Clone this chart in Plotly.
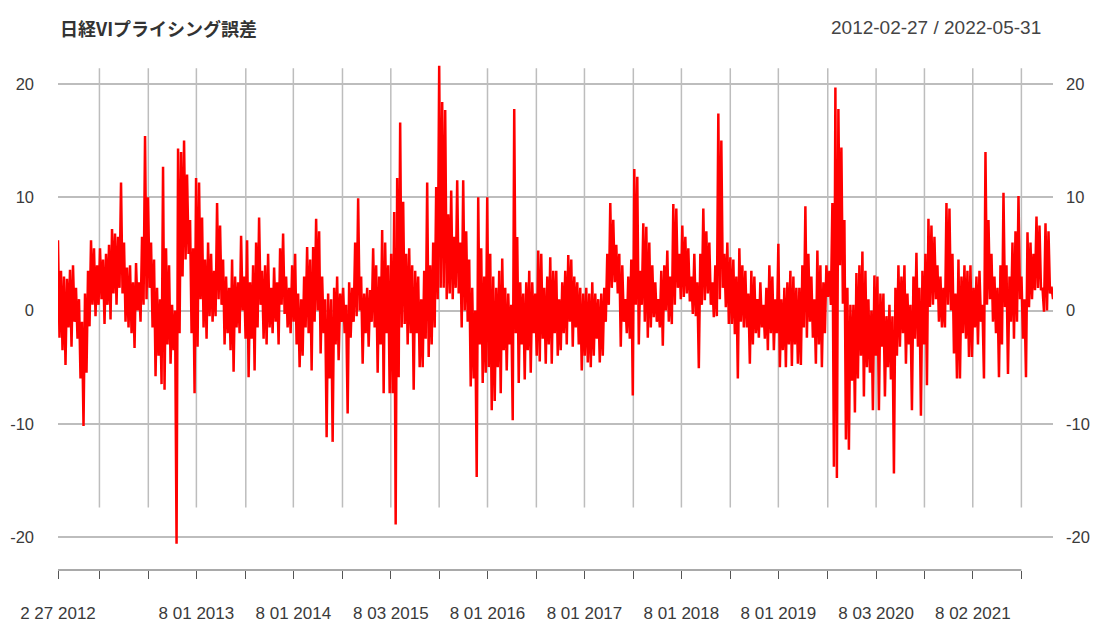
import pandas as pd
import plotly.graph_objects as go

START = "2012-02-27"
END = "2022-05-31"

# Per-period (approx. 11 calendar days) upper / lower extent of the pricing error
period_high = [
    # 2012
    6.2, 3.5, 3.0, 2.8, 3.6, 4.0, 2.0, 1.0, -1.0, 1.5, 3.5, 6.2, 5.5, 4.0,
    5.5, 4.5, 5.0, 5.8, 7.2, 6.8, 6.5, 11.3, 6.0, 3.8, 4.0, 2.5, 4.2, 2.5, 6.5, 15.4,
    # 2013
    10.0, 6.0, 4.5, 2.0, 1.0, 12.7, 5.5, 4.0, 0.5, 0.0, 14.3, 14.0, 15.0, 12.0, 8.0, 5.5,
    11.7, 11.3, 8.2, 4.5, 6.0, 5.0, 3.5, 9.5, 7.5, 4.5, 3.0, 2.0, 4.5, 3.0, 2.5, 6.6, 3.0,
    # 2014
    6.2, 2.5, 4.0, 6.0, 8.2, 3.5, 4.0, 5.0, 2.0, 3.8, 2.5, 5.5, 6.8, 3.0, 2.0, 4.0,
    5.0, 1.5, 1.0, 3.0, 5.6, 4.5, 5.6, 8.1, 7.0, 3.0, 1.0, 1.5, 1.0, 2.0, 3.0, 1.5,
    # 2015
    2.0, 0.5, 2.5, 2.0, 6.0, 9.9, 3.0, 1.5, 2.0, 1.8, 5.5, 4.0, 3.0, 7.1, 6.0, 4.0,
    5.0, 8.7, 11.7, 16.6, 9.6, 5.0, 5.5, 4.0, 3.5, 3.0, 1.0, 3.5, 11.3, 4.0, 6.0, 10.9, 21.6,
    # 2016
    18.4, 17.7, 8.5, 10.6, 6.5, 11.5, 6.0, 11.5, 7.0, 4.5, 2.0, 0.0, 10.0, 5.5, 3.0, 10.0,
    5.0, 3.0, 2.0, 3.5, 4.6, 2.0, 1.5, 0.5, 17.8, 6.5, 2.5, 1.5, 2.5, 3.5, 2.5, 1.5,
    # 2017
    5.3, 5.0, 2.0, 3.0, 4.7, 3.5, 3.5, 1.0, 2.5, 3.5, 4.9, 4.5, 3.0, 2.5, 2.0, 1.5,
    2.0, 1.5, 2.5, 1.5, 1.0, 1.5, 2.0, 5.0, 9.5, 8.0, 5.8, 5.0, 4.0, 1.0, 3.0, 4.5, 12.5,
    # 2018
    11.8, 3.5, 7.7, 7.4, 6.0, 4.0, 2.5, 1.0, 3.5, 4.0, 5.3, 3.0, 9.4, 9.0, 5.0,
    7.5, 6.5, 5.5, 3.0, 5.0, 2.5, 5.0, 9.0, 7.0, 6.0, 2.5, 4.0, 17.4, 15.0, 5.0, 6.0,
    # 2019
    4.7, 4.5, 3.0, 5.5, 4.0, 3.5, 1.5, 3.5, 3.0, 1.0, 2.5, 0.5, 2.0, 4.0, 3.0, 1.0,
    5.9, 1.0, 2.0, 2.5, 3.5, 3.0, 2.0, 2.0, 4.0, 9.2, 5.0, 3.0, 1.0, 5.3, 4.0, 2.5,
    # 2020
    4.0, 3.5, 9.5, 19.7, 17.8, 14.4, 8.0, 2.0, 0.5, 0.5, 3.3, 4.0, 5.2, 3.5, 1.0, 0.0, 3.1,
    3.0, 1.5, 1.5, -0.5, 0.5, -0.5, 2.0, 4.0, 3.0, 4.0, 1.5, 0.5, 3.0, 5.1, 2.0, 3.5,
    # 2021
    5.0, 8.1, 7.5, 6.5, 4.0, 3.0, 2.0, 9.5, 9.0, 5.0, 1.5, 4.5, 3.0, 4.0, 3.5,
    4.0, 2.0, 3.0, 3.5, 0.5, 14.0, 8.0, 5.0, 3.0, 2.0, 4.0, 10.4, 4.0, 3.0,
    # 2022
    6.0, 7.0, 10.1, 3.0, 1.0, 6.9, 6.0, 5.0, 8.3, 7.5, 2.0, 7.7, 7.0, 2.1,
]

period_low = [
    # 2012
    -2.4, -3.5, -4.8, -1.5, -3.2, -1.0, -2.5, -6.0, -10.2, -5.5, -1.4, 0.5, -0.5, 0.5,
    1.0, -1.2, 0.5, -0.8, 1.5, 0.5, 2.0, 1.5, -1.0, -1.5, -2.0, -3.3, 0.0, -1.0, 0.5, 1.0,
    # 2013
    2.0, -1.5, -5.8, -4.0, -6.5, -7.0, -3.0, -4.7, -3.5, -20.6, -2.0, 3.0, 4.5, 5.0, -2.0, -7.3,
    -3.2, 1.0, -1.5, -2.5, -0.5, -1.0, -0.5, 1.0, 0.5, -3.0, -2.0, -3.5, -5.4, -1.5, -2.0, 0.0, -2.5,
    # 2014
    -5.9, -2.5, -5.3, -1.5, 0.5, -2.5, -3.0, -1.5, -2.0, -1.0, -3.0, 0.5, -0.3, -1.5, -2.0, -1.0,
    -3.0, -5.0, -4.0, -1.5, -2.0, -5.3, -1.0, 0.0, -3.8, -2.0, -11.2, -6.0, -11.6, -3.0, -4.4, -1.0,
    # 2015
    -2.0, -9.1, -2.4, -1.0, -0.5, 0.0, -4.7, -2.0, -3.2, -1.0, -1.5, -5.5, -3.0, -7.3, -2.0, -7.3,
    -7.3, -18.9, -5.9, -1.5, -1.2, -3.0, -2.0, -7.0, -2.0, -5.0, -5.0, -2.5, -4.1, -3.0, -1.5, 1.0, 2.0,
    # 2016
    2.0, 1.0, 1.5, 1.0, 2.0, 1.5, -1.5, 0.0, -1.0, -6.7, -6.0, -14.7, -3.0, -6.4, -5.5, -5.0,
    -8.8, -8.0, -5.0, -7.3, -3.5, -5.3, -3.0, -9.7, -2.0, -6.4, -3.0, -6.1, -3.5, -5.5, -2.0, -4.0,
    # 2017
    -4.5, -2.5, -4.7, -3.0, -4.7, -2.0, -4.0, -3.5, -2.0, -3.0, -1.0, -3.2, -1.5, -3.0, -5.3, -4.0,
    -4.6, -5.0, -4.0, -2.5, -4.6, -4.0, -1.0, 0.5, 2.0, 2.5, 1.5, -3.2, -1.0, -2.0, -2.5, -7.5, 0.5,
    # 2018
    -3.0, 0.5, -1.0, -2.4, -1.5, -0.6, -1.0, -1.5, -3.1, 0.0, -1.0, -1.2, 0.5, 2.0, 1.0,
    1.2, 1.5, 0.8, -0.3, -0.5, -5.1, 0.5, 0.9, 1.5, 0.5, -0.6, -0.5, 1.0, 2.0, 0.3, -1.2,
    # 2019
    -1.2, -2.1, -6.0, -1.0, -1.5, -1.5, -4.7, -3.0, -2.0, -2.4, -1.5, -2.5, -3.5, -2.0, -3.5, -2.0,
    -5.0, -3.5, -5.0, -3.0, -4.9, -3.0, -4.7, -4.8, -1.5, -2.4, -1.0, -2.4, -4.7, -3.0, -5.0, -2.0,
    # 2020
    1.2, 0.5, -13.8, -14.8, 4.0, 0.6, -11.4, -12.3, -6.2, -9.0, -6.0, -4.0, -7.6, -5.0, -5.5, -8.8, -4.0,
    -8.8, -3.2, -7.6, -5.0, -6.1, -14.4, -4.0, -3.2, -2.0, -4.7, -3.0, -8.8, -2.5, -3.2, -9.3, -3.0,
    # 2021
    -6.6, 0.3, 0.5, 1.0, -1.0, -1.5, -1.5, 0.5, 0.0, -3.8, -6.0, -6.0, -2.0, -2.5, -4.1,
    -4.1, -1.5, -3.0, -1.0, -6.0, 0.5, 1.0, -1.0, -2.0, -5.9, -3.0, 0.3, -5.6, -1.0,
    # 2022
    -2.5, -1.0, 1.0, -2.5, -5.9, 0.3, 1.0, 1.8, 2.0, 1.8, -0.1, 0.0, 1.5, 1.0,
]

if len(period_high) != len(period_low):
    raise ValueError(f"length mismatch {len(period_high)} vs {len(period_low)}")

# axis ticks (first trading day of Feb / Aug) and their labels
tick_dates = [
    "2012-02-27", "2012-08-01", "2013-02-01", "2013-08-01", "2014-02-03", "2014-08-01",
    "2015-02-02", "2015-08-03", "2016-02-01", "2016-08-01", "2017-02-01", "2017-08-01",
    "2018-02-01", "2018-08-01", "2019-02-01", "2019-08-01", "2020-02-03", "2020-08-03",
    "2021-02-01", "2021-08-02", "2022-02-01",
]
tick_labels = [
    "2 27 2012", "", "", "8 01 2013", "", "8 01 2014",
    "", "8 03 2015", "", "8 01 2016", "", "8 01 2017",
    "", "8 01 2018", "", "8 01 2019", "", "8 03 2020",
    "", "8 02 2021", "",
]
y_ticks = [-20, -10, 0, 10, 20]
y_tick_labels = ["-20", "-10", "0", "10", "20"]

# build the series: high then low within each period
values = []
for h, l in zip(period_high, period_low):
    values.extend([h, l])
dates = pd.date_range(START, END, periods=len(values))

Y_MIN, Y_MAX = -22.914, 22.119
GRID = "#bdbdbd"
TXT = "#3a3a3a"
TICKFONT = dict(family="Liberation Sans, Arial, sans-serif", size=16.5, color=TXT)

fig = go.Figure()
fig.add_trace(go.Scatter(
    x=dates, y=values, mode="lines",
    line=dict(color="#ff0000", width=2.5),
    hoverinfo="skip", showlegend=False,
))
# invisible companion trace so the right-hand axis is drawn
fig.add_trace(go.Scatter(
    x=[dates[0]], y=[0], yaxis="y2", mode="markers",
    marker=dict(opacity=0), hoverinfo="skip", showlegend=False,
))

shapes = []
for d in tick_dates[1:]:
    shapes.append(dict(type="line", xref="x", yref="y", x0=d, x1=d, y0=-17.4, y1=21.4,
                       line=dict(color=GRID, width=1.5), layer="below"))
shapes.append(dict(type="line", xref="x", yref="paper", x0=tick_dates[0], x1=tick_dates[-1],
                   y0=0, y1=0, line=dict(color="#555555", width=1.2)))

# the page adds an 8px body margin, so the figure is 8px smaller in each direction
fig.update_layout(
    width=1093, height=616,
    margin=dict(l=50, r=48, t=52, b=54, autoexpand=False),
    paper_bgcolor="white", plot_bgcolor="white",
    shapes=shapes,
    xaxis=dict(
        type="date", range=[START, END], automargin=False,
        tickmode="array", tickvals=tick_dates, ticktext=tick_labels,
        ticks="outside", ticklen=8, tickwidth=1.2, tickcolor="#555555",
        showgrid=False, showline=False, zeroline=False,
        tickfont=dict(family="Liberation Sans, Arial, sans-serif", size=17, color=TXT),
        ticklabelstandoff=20,
    ),
    yaxis=dict(
        range=[Y_MIN, Y_MAX], tickmode="array", tickvals=y_ticks, ticktext=y_tick_labels,
        automargin=False,
        showgrid=True, gridcolor=GRID, gridwidth=1.5, zeroline=False,
        showline=False, ticks="", tickfont=TICKFONT, ticklabelstandoff=23,
    ),
    yaxis2=dict(
        range=[Y_MIN, Y_MAX], tickmode="array", tickvals=y_ticks, ticktext=y_tick_labels,
        automargin=False,
        overlaying="y", side="right", showgrid=False, zeroline=False,
        showline=False, ticks="", tickfont=TICKFONT, ticklabelstandoff=12,
    ),
    annotations=[
        dict(text="日経VIプライシング誤差", xref="paper", yref="paper",
             x=0.0, y=1.063, xanchor="left", yanchor="middle", showarrow=False,
             font=dict(family="Noto Sans CJK JP", size=18, color="#333333", weight="bold")),
        dict(text="2012-02-27 / 2022-05-31", xref="paper", yref="paper",
             x=0.99, y=1.063, xanchor="right", yanchor="middle", showarrow=False,
             font=dict(family="Liberation Sans, Arial, sans-serif", size=19, color="#444444")),
    ],
)

fig.write_html("out.html")
